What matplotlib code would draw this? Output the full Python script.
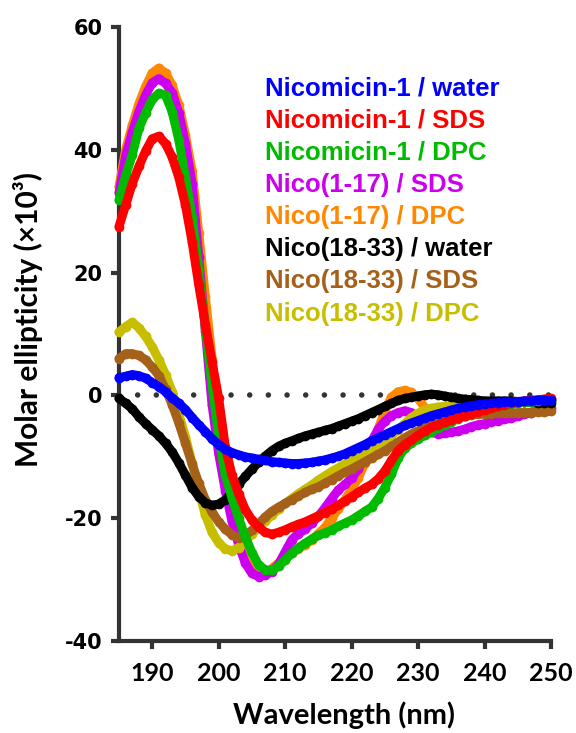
import numpy as np
import matplotlib
matplotlib.use("Agg")
import matplotlib.pyplot as plt

plt.rcParams["axes.unicode_minus"] = False

# wavelength grid (nm) (x10^3)
wavelength = np.arange(185, 251)

nico_water = [2.9, 3.1, 3.4, 3.2, 2.8, 2.1, 1.4, 0.6, -0.4, -1.3,
              -2.3, -3.6, -4.8, -5.9, -7.1, -8.0, -8.8, -9.3, -9.7, -10.0,
              -10.2, -10.4, -10.6, -10.8, -10.9, -11.0, -11.1, -11.1, -11.0, -10.9,
              -10.7, -10.5, -10.2, -9.9, -9.5, -9.0, -8.5, -8.0, -7.4, -6.9,
              -6.4, -5.9, -5.4, -4.9, -4.5, -4.1, -3.7, -3.3, -3.0, -2.7,
              -2.4, -2.1, -1.9, -1.7, -1.5, -1.4, -1.3, -1.2, -1.1, -1.0,
              -1.0, -0.9, -0.9, -0.8, -0.8, -0.8]
nico_sds = [27.5, 31.0, 34.5, 37.3, 39.8, 41.8, 42.2, 41.0, 38.8, 35.5,
            31.0, 25.0, 18.0, 11.5, 5.5, -0.5, -8.4, -13.0, -16.0, -18.6,
            -20.3, -21.5, -22.3, -22.6, -22.3, -21.9, -21.4, -21.0, -20.6, -20.1,
            -19.6, -19.1, -18.5, -17.9, -17.2, -16.5, -15.8, -15.1, -14.5, -13.6,
            -12.3, -10.6, -9.0, -8.0, -7.3, -6.5, -5.8, -5.2, -4.8, -4.4,
            -4.0, -3.6, -3.3, -3.0, -2.7, -2.4, -2.1, -1.8, -1.5, -1.3,
            -1.1, -0.9, -0.8, -0.7, -0.6, -0.5]
nico_dpc = [31.8, 35.8, 39.2, 43.5, 46.0, 48.2, 49.2, 48.9, 46.2, 41.6,
            35.5, 29.0, 20.5, 11.0, 1.7, -6.7, -13.0, -16.7, -20.0, -23.0,
            -25.6, -27.6, -28.4, -28.5, -27.8, -26.8, -25.7, -24.8, -24.1, -23.4,
            -22.8, -22.4, -21.9, -21.3, -20.8, -20.3, -19.6, -18.9, -18.2, -16.8,
            -15.0, -12.8, -10.2, -8.6, -7.8, -7.1, -6.5, -5.9, -5.3, -4.8,
            -4.3, -3.8, -3.4, -3.0, -2.6, -2.3, -2.0, -1.8, -1.6, -1.4,
            -1.2, -1.1, -1.0, -0.9, -0.8, -0.7]
n117_sds = [33.0, 39.0, 42.9, 46.2, 48.9, 50.9, 51.6, 50.8, 49.3, 46.0,
            41.0, 34.5, 22.5, 10.5, -1.5, -9.5, -15.5, -20.5, -24.3, -27.3,
            -29.0, -29.5, -29.3, -28.7, -27.5, -25.5, -23.5, -22.5, -21.8, -20.8,
            -19.7, -18.3, -16.8, -15.4, -14.5, -13.5, -12.0, -10.0, -7.5, -5.5,
            -4.2, -3.3, -2.8, -2.5, -2.8, -4.0, -5.3, -6.0, -6.3, -6.2,
            -6.0, -5.8, -5.5, -5.1, -4.8, -4.6, -4.3, -4.1, -3.9, -3.7,
            -3.4, -3.1, -2.8, -2.5, -2.3, -2.1]
n117_dpc = [34.0, 40.0, 44.0, 47.5, 50.3, 52.5, 53.3, 52.5, 50.5, 47.3,
            42.4, 36.5, 26.5, 16.0, 6.0, -4.5, -13.5, -20.0, -24.0, -26.8,
            -28.3, -28.9, -28.8, -28.2, -27.3, -26.3, -25.6, -25.0, -24.3, -23.5,
            -22.5, -21.5, -20.0, -18.5, -17.0, -15.3, -13.5, -11.0, -8.5, -5.5,
            -2.5, -0.3, 0.6, 0.8, 0.5, -0.5, -2.0, -2.9, -3.1, -3.0,
            -2.8, -2.6, -2.4, -2.2, -2.0, -1.8, -1.6, -1.5, -1.3, -1.2,
            -1.1, -1.0, -0.9, -0.8, -0.7, -0.6]
n1833_water = [-0.5, -1.3, -2.2, -3.5, -4.6, -5.6, -6.6, -7.8, -9.2, -11.0,
               -13.0, -15.0, -16.5, -17.5, -17.9, -17.7, -17.0, -15.8, -14.5, -13.2,
               -12.0, -10.9, -9.9, -9.0, -8.3, -7.8, -7.4, -7.0, -6.6, -6.3,
               -6.0, -5.7, -5.4, -5.0, -4.6, -4.2, -3.8, -3.3, -2.8, -2.3,
               -1.8, -1.3, -0.8, -0.5, -0.3, -0.1, 0.1, 0.2, 0.1, -0.1,
               -0.3, -0.5, -0.6, -0.7, -0.8, -0.9, -0.9, -0.9, -0.9, -0.9,
               -1.0, -1.0, -1.1, -1.2, -1.2, -1.2]
n1833_sds = [6.0, 6.8, 6.8, 6.5, 5.8, 4.6, 3.2, 1.0, -1.5, -4.5,
             -7.8, -11.2, -14.3, -17.0, -19.0, -20.6, -21.8, -22.7, -23.2, -22.8,
             -22.0, -20.9, -19.8, -18.9, -18.2, -17.6, -17.0, -16.4, -15.8, -15.3,
             -14.9, -14.3, -13.7, -13.1, -12.5, -12.0, -11.4, -10.8, -10.2, -9.6,
             -9.0, -8.3, -7.6, -6.9, -6.3, -5.8, -5.3, -4.9, -4.5, -4.1,
             -3.8, -3.6, -3.4, -3.2, -3.1, -3.0, -3.0, -2.9, -2.9, -2.9,
             -2.8, -2.8, -2.8, -2.7, -2.7, -2.6]
n1833_dpc = [10.3, 11.2, 11.9, 11.0, 9.6, 7.9, 5.8, 3.4, 0.6, -3.0,
             -6.8, -11.0, -15.5, -19.5, -22.3, -24.0, -25.0, -25.3, -24.8, -23.8,
             -22.6, -21.5, -20.5, -19.5, -18.5, -17.6, -16.8, -16.0, -15.3, -14.6,
             -13.8, -13.1, -12.4, -11.8, -11.2, -10.6, -10.0, -9.4, -8.7, -8.0,
             -7.3, -6.5, -5.6, -4.6, -3.6, -2.9, -2.4, -2.1, -1.9, -1.8,
             -1.7, -1.6, -1.5, -1.4, -1.3, -1.3, -1.2, -1.2, -1.1, -1.1,
             -1.0, -1.0, -1.0, -0.9, -0.9, -0.9]

labels = ["Nicomicin-1 / water", "Nicomicin-1 / SDS", "Nicomicin-1 / DPC",
          "Nico(1-17) / SDS", "Nico(1-17) / DPC", "Nico(18-33) / water",
          "Nico(18-33) / SDS", "Nico(18-33) / DPC"]
series = [nico_water, nico_sds, nico_dpc, n117_sds, n117_dpc,
          n1833_water, n1833_sds, n1833_dpc]
colors = ["#0000ff", "#ff0000", "#00bb00", "#cc00ee", "#ff8800",
          "#000000", "#a5601a", "#c8be00"]
# stacking order seen in the picture (bottom -> top)
zorders = [12, 11, 10, 5, 4, 9, 7, 6]

axis_grey = "#333333"

fig = plt.figure(figsize=(5.76, 7.33), dpi=100)
ax = fig.add_axes([119 / 576, 1 - 641 / 733, 432 / 576, 614 / 733])

ax.axhline(0, color=axis_grey, lw=4, linestyle=(0, (0.001, 3.36)),
           dash_capstyle="round", zorder=3)

handles = []
for vals, lab, col, z in zip(series, labels, colors, zorders):
    h, = ax.plot(wavelength, vals, color=col, lw=6.5, marker="o", ms=7,
                 mew=0, solid_capstyle="round", solid_joinstyle="round",
                 label=lab, zorder=z, clip_on=False)
    handles.append(h)

ax.set_xlim(185, 250)
ax.set_ylim(-40, 60)
ax.set_xticks(range(190, 251, 10))
ax.set_yticks(range(-40, 61, 20))

for side in ["top", "right"]:
    ax.spines[side].set_visible(False)
for side in ["left", "bottom"]:
    ax.spines[side].set_color(axis_grey)
    ax.spines[side].set_linewidth(3)
ax.tick_params(direction="out", length=6, width=3, color=axis_grey)
ax.tick_params(axis="y", pad=6)
ax.tick_params(axis="x", pad=9)

for t in ax.get_yticklabels():
    t.set_fontfamily("DejaVu Sans")
    t.set_fontweight("bold")
    t.set_fontsize(15)
for t in ax.get_xticklabels():
    t.set_fontfamily("Lato")
    t.set_fontweight("bold")
    t.set_fontsize(18)

ax.set_xlabel("Wavelength (nm)", fontfamily="Lato", fontweight="bold",
              fontsize=21)
ax.xaxis.set_label_coords(0.52, -0.098)
ax.set_ylabel("Molar ellipticity (×10³)", fontfamily="Lato",
              fontweight="bold", fontsize=21.5)
ax.yaxis.set_label_coords(-0.175, 0.523)

leg = ax.legend(handles=handles, loc="upper left", bbox_to_anchor=(0.338, 0.92),
                frameon=False, handlelength=0, handletextpad=0, borderpad=0,
                borderaxespad=0, labelspacing=0.32,
                prop={"family": "Liberation Sans", "weight": "bold", "size": 18.5})
for h in leg.legend_handles:
    h.set_visible(False)
for t, col in zip(leg.get_texts(), colors):
    t.set_color(col)

fig.savefig("out.png", dpi=100)
